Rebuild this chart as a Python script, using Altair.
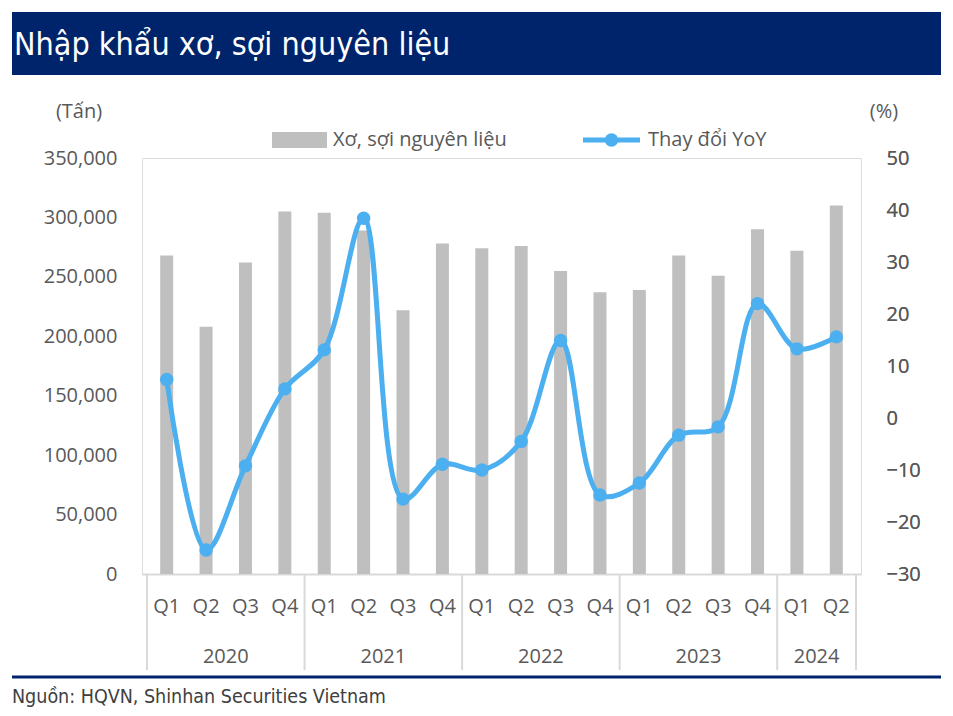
import altair as alt
import pandas as pd

quarters = ["Q1", "Q2", "Q3", "Q4"] * 4 + ["Q1", "Q2"]
years = ["2020"] * 4 + ["2021"] * 4 + ["2022"] * 4 + ["2023"] * 4 + ["2024"] * 2
imports_tons = [268000, 208000, 262000, 305000, 304000, 289000, 222000, 278000,
                274000, 276000, 255000, 237000, 239000, 268000, 251000, 290000,
                272000, 310000]
yoy_pct = [7.4, -25.4, -9.2, 5.6, 13.1, 38.4, -15.6, -8.9,
           -10.0, -4.5, 14.9, -14.8, -12.5, -3.3, -1.7, 22.0,
           13.3, 15.6]
year_labels = ["2020", "2021", "2022", "2023", "2024"]
year_centers = [1.5, 5.5, 9.5, 13.5, 16.5]
year_bounds = [-0.5, 3.5, 7.5, 11.5, 15.5, 17.5]

NAVY = "#00246B"
BLUE = "#4BAFF0"
GRAY = "#BFBFBF"
TXT = "#595959"
FONT = "Open Sans"
NARROW = "DejaVu Sans Condensed, Roboto"

W, H = 719, 416

df = pd.DataFrame({"idx": list(range(len(quarters))), "q": quarters, "year": years,
                   "tons": imports_tons, "yoy": yoy_pct})
ydf = pd.DataFrame({"c": year_centers, "year": year_labels})
bdf = pd.DataFrame({"b": year_bounds})
one = pd.DataFrame({"a": [0]})

xscale = alt.Scale(domain=[-0.5, 17.5], nice=False, zero=False)
xenc = alt.X("idx:Q", scale=xscale,
             axis=alt.Axis(title=None, labels=False, ticks=False, grid=False,
                           domainColor="#D9D9D9", domainWidth=2))

bars = alt.Chart(df).mark_bar(size=13, color=GRAY).encode(
    x=xenc,
    y=alt.Y("tons:Q", scale=alt.Scale(domain=[0, 350000], nice=False),
            axis=alt.Axis(values=list(range(0, 350001, 50000)), format=",.0f", title=None,
                          ticks=False, domain=False, grid=False, labelPadding=25,
                          labelFontSize=20, labelColor=TXT, labelFont=FONT)),
)

yr = alt.Y("yoy:Q", scale=alt.Scale(domain=[-30, 50], nice=False),
           axis=alt.Axis(orient="right", values=list(range(-30, 51, 10)), format="d",
                         title=None, ticks=False, domain=False, grid=False, labelPadding=25,
                         labelFontSize=20, labelColor=TXT, labelFont=FONT))
line = alt.Chart(df).mark_line(color=BLUE, strokeWidth=5, interpolate="catmull-rom").encode(
    x=alt.X("idx:Q", scale=xscale), y=yr)
pts = alt.Chart(df).mark_point(color=BLUE, filled=True, opacity=1, size=180).encode(
    x=alt.X("idx:Q", scale=xscale), y=yr)

qtext = alt.Chart(df).mark_text(font=FONT, fontSize=20, color=TXT, baseline="middle").encode(
    x=alt.X("idx:Q", scale=xscale), y=alt.value(449), text="q:N")
ytext = alt.Chart(ydf).mark_text(font=FONT, fontSize=20, color=TXT, baseline="middle").encode(
    x=alt.X("c:Q", scale=xscale), y=alt.value(499), text="year:N")
seps = alt.Chart(bdf).mark_rule(color="#D9D9D9", strokeWidth=2).encode(
    x=alt.X("b:Q", scale=xscale), y=alt.value(416), y2=alt.value(512))

banner = alt.Chart(one).mark_rect(color=NAVY).encode(
    x=alt.value(-130), x2=alt.value(800), y=alt.value(-146), y2=alt.value(-83))
title = alt.Chart(one).mark_text(font=NARROW, fontSize=32, color="white", align="left",
                                 baseline="middle").encode(
    x=alt.value(-128), y=alt.value(-113), text=alt.value("Nhập khẩu xơ, sợi nguyên liệu"))
bottom_line = alt.Chart(one).mark_rule(color=NAVY, strokeWidth=3).encode(
    x=alt.value(-130), x2=alt.value(800), y=alt.value(519))
source = alt.Chart(one).mark_text(font=NARROW, fontSize=19.5, color="#404040", align="left",
                                  baseline="middle").encode(
    x=alt.value(-130), y=alt.value(539), text=alt.value("Nguồn:  HQVN, Shinhan Securities Vietnam"))
unit_l = alt.Chart(one).mark_text(font=FONT, fontSize=20, color=TXT, baseline="middle").encode(
    x=alt.value(-63), y=alt.value(-46), text=alt.value("(Tấn)"))
unit_r = alt.Chart(one).mark_text(font=FONT, fontSize=20, color=TXT, baseline="middle").encode(
    x=alt.value(742), y=alt.value(-46), text=alt.value("(%)"))

leg_rect = alt.Chart(one).mark_rect(color=GRAY).encode(
    x=alt.value(130), x2=alt.value(185), y=alt.value(-26), y2=alt.value(-10))
leg_t1 = alt.Chart(one).mark_text(font=FONT, fontSize=20, color=TXT, align="left",
                                  baseline="middle").encode(
    x=alt.value(191), y=alt.value(-18), text=alt.value("Xơ, sợi nguyên liệu"))
leg_line = alt.Chart(one).mark_rule(color=BLUE, strokeWidth=5).encode(
    x=alt.value(441), x2=alt.value(498), y=alt.value(-18))
leg_pt = alt.Chart(one).mark_point(color=BLUE, filled=True, opacity=1, size=180).encode(
    x=alt.value(469.5), y=alt.value(-18))
leg_t2 = alt.Chart(one).mark_text(font=FONT, fontSize=20, color=TXT, align="left",
                                  baseline="middle").encode(
    x=alt.value(506), y=alt.value(-18), text=alt.value("Thay đổi YoY"))

chart = alt.layer(
    banner, title, bottom_line, source, unit_l, unit_r,
    leg_rect, leg_t1, leg_line, leg_pt, leg_t2,
    seps, bars, qtext, ytext, line, pts,
).resolve_scale(y="independent").properties(
    width=W, height=H,
    autosize=alt.AutoSizeParams(type="none"),
    padding={"left": 134, "top": 150, "right": 80, "bottom": 140},
).configure_view(stroke=None).configure(background="white")

chart.save("out.html", embed_options={"renderer": "svg", "actions": False})
